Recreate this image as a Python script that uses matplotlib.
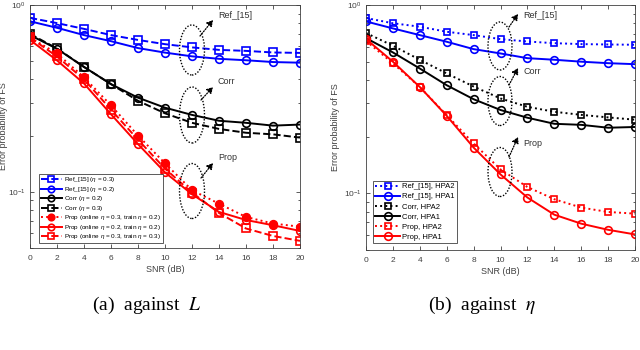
import numpy as np
import matplotlib
matplotlib.use("Agg")
import matplotlib.pyplot as plt
from matplotlib.patches import Ellipse, FancyArrowPatch
from matplotlib.ticker import LogLocator, NullFormatter, FixedLocator

snr = [0, 2, 4, 6, 8, 10, 12, 14, 16, 18, 20]

# (a) against L
ref_eta03 = [0.853, 0.80, 0.745, 0.69, 0.65, 0.617, 0.593, 0.575, 0.568, 0.557, 0.554]
ref_eta02 = [0.818, 0.755, 0.69, 0.64, 0.588, 0.556, 0.531, 0.515, 0.506, 0.495, 0.491]
corr_eta02 = [0.69, 0.583, 0.466, 0.377, 0.319, 0.282, 0.258, 0.24, 0.234, 0.226, 0.229]
corr_eta03 = [0.70, 0.585, 0.466, 0.377, 0.307, 0.263, 0.234, 0.217, 0.207, 0.203, 0.195]
prop_on03_tr02 = [0.67, 0.55, 0.41, 0.29, 0.20, 0.142, 0.102, 0.0863, 0.0733, 0.0676, 0.065]
prop_on02_tr02 = [0.65, 0.505, 0.38, 0.26, 0.18, 0.127, 0.097, 0.078, 0.0706, 0.0662, 0.0617]
prop_on03_tr03 = [0.67, 0.53, 0.40, 0.275, 0.19, 0.133, 0.099, 0.077, 0.0636, 0.058, 0.0546]

# (b) against eta
ref_hpa2 = [0.853, 0.80, 0.767, 0.721, 0.692, 0.659, 0.64, 0.627, 0.62, 0.617, 0.615]
ref_hpa1 = [0.818, 0.751, 0.692, 0.638, 0.583, 0.553, 0.522, 0.512, 0.50, 0.491, 0.485]
corr_hpa2 = [0.71, 0.608, 0.512, 0.433, 0.369, 0.319, 0.288, 0.271, 0.261, 0.253, 0.246]
corr_hpa1 = [0.667, 0.56, 0.46, 0.375, 0.316, 0.277, 0.252, 0.234, 0.231, 0.223, 0.225]
prop_hpa2 = [0.645, 0.49, 0.367, 0.26, 0.184, 0.134, 0.108, 0.093, 0.084, 0.0796, 0.078]
prop_hpa1 = [0.66, 0.50, 0.367, 0.258, 0.175, 0.126, 0.095, 0.077, 0.069, 0.064, 0.0605]

W, H = 640, 350
fig = plt.figure(figsize=(6.4, 3.5), dpi=100)
plt.rcParams['font.family'] = ['Liberation Sans', 'DejaVu Sans']
plt.rcParams['mathtext.fontset'] = 'custom'
plt.rcParams['mathtext.rm'] = 'Liberation Sans'
plt.rcParams['mathtext.it'] = 'Liberation Sans:italic'

AX = '#404040'

def axes_px(x0, y0, x1, y1):
    return fig.add_axes([x0 / W, 1 - y1 / H, (x1 - x0) / W, (y1 - y0) / H])

def style(ax, ylab_x):
    ax.set_yscale('log')
    ax.set_xlim(0, 20)
    ax.set_ylim(0.05, 1)
    ax.set_xticks(snr)
    ax.yaxis.set_major_locator(FixedLocator([0.1, 1]))
    ax.yaxis.set_minor_locator(LogLocator(base=10, subs=np.arange(2, 10)))
    ax.yaxis.set_minor_formatter(NullFormatter())
    ax.tick_params(which='both', direction='in', top=True, right=True,
                   colors=AX, labelsize=6, width=0.6)
    ax.tick_params(axis='x', pad=5)
    ax.tick_params(axis='y', pad=3)
    ax.tick_params(which='major', length=3)
    ax.tick_params(which='minor', length=1.8)
    for s in ax.spines.values():
        s.set_color(AX)
        s.set_linewidth(0.6)
    ax.set_xlabel('SNR (dB)', fontsize=6.5, color=AX, labelpad=2)
    ax.set_ylabel('Error probability of FS', fontsize=6.5, color=AX)
    ax.yaxis.set_label_coords(ylab_x, 0.5)

def annot(ax_texts):
    for (cx, cy, w, h, sx, sy, ex, ey, tx, ty, label) in ax_texts:
        e = Ellipse((cx / W, 1 - cy / H), w / W, h / H, transform=fig.transFigure,
                    fill=False, linestyle=(0, (1, 1.2)), linewidth=1.0, color='black')
        fig.add_artist(e)
        a = FancyArrowPatch((sx / W, 1 - sy / H), (ex / W, 1 - ey / H),
                            transform=fig.transFigure, arrowstyle='-|>,head_length=3.5,head_width=2',
                            linestyle=(0, (1, 1.2)), linewidth=0.9, color='black',
                            mutation_scale=1, shrinkA=0, shrinkB=0)
        fig.add_artist(a)
        fig.text(tx / W, 1 - ty / H, label, fontsize=6.5, color='#333333',
                 ha='left', va='center')

ms = 5.5
mew = 1.2
lw = 1.4

# ---- (a) ----
ax1 = axes_px(30, 5, 300, 248)
ax1.plot(snr, ref_eta03, color='blue', ls='--', marker='s', mfc='none', ms=ms, mew=mew, lw=lw,
         label=r'Ref_[15] ($\eta$ = 0.3)')
ax1.plot(snr, ref_eta02, color='blue', ls='-', marker='o', mfc='none', ms=ms, mew=mew, lw=lw,
         label=r'Ref_[15] ($\eta$ = 0.2)')
ax1.plot(snr, corr_eta02, color='black', ls='-', marker='o', mfc='none', ms=ms, mew=mew, lw=lw,
         label=r'Corr ($\eta$ = 0.2)')
ax1.plot(snr, corr_eta03, color='black', ls='--', marker='s', mfc='none', ms=ms, mew=mew, lw=lw,
         label=r'Corr ($\eta$ = 0.3)')
ax1.plot(snr, prop_on03_tr02, color='red', ls=':', marker='o', mfc='red', ms=ms, mew=mew, lw=lw,
         label=r'Prop (online $\eta$ = 0.3, train $\eta$ = 0.2)')
ax1.plot(snr, prop_on02_tr02, color='red', ls='-', marker='o', mfc='none', ms=ms, mew=mew, lw=lw,
         label=r'Prop (online $\eta$ = 0.2, train $\eta$ = 0.2)')
ax1.plot(snr, prop_on03_tr03, color='red', ls='--', marker='s', mfc='none', ms=ms, mew=mew, lw=lw,
         label=r'Prop (online $\eta$ = 0.3, train $\eta$ = 0.3)')
style(ax1, (8 - 30) / 270)
leg1 = ax1.legend(loc='lower left', bbox_to_anchor=((39 - 30) / 270, (248 - 243) / 243),
                  fontsize=4.6, handlelength=3.4, handletextpad=0.3, borderpad=0.25,
                  labelspacing=0.08, borderaxespad=0, fancybox=False, framealpha=1,
                  edgecolor=AX, markerscale=0.85)
leg1.get_frame().set_linewidth(0.6)

annot([
    (192, 50, 25, 50, 200, 36, 213, 20, 218, 16, 'Ref_[15]'),
    (192, 115, 25, 56, 201, 100, 213, 87, 218, 82, 'Corr'),
    (192, 191, 25, 55, 201, 178, 213, 163, 218, 157, 'Prop'),
])

# ---- (b) ----
ax2 = axes_px(366, 5, 635, 250)
ax2.plot(snr, ref_hpa2, color='blue', ls=':', marker='s', mfc='none', ms=ms - 0.5, mew=mew, lw=lw,
         label='Ref_[15], HPA2')
ax2.plot(snr, ref_hpa1, color='blue', ls='-', marker='o', mfc='none', ms=ms, mew=mew, lw=lw,
         label='Ref_[15], HPA1')
ax2.plot(snr, corr_hpa2, color='black', ls=':', marker='s', mfc='none', ms=ms - 0.5, mew=mew, lw=lw,
         label='Corr, HPA2')
ax2.plot(snr, corr_hpa1, color='black', ls='-', marker='o', mfc='none', ms=ms, mew=mew, lw=lw,
         label='Corr, HPA1')
ax2.plot(snr, prop_hpa2, color='red', ls=':', marker='s', mfc='none', ms=ms - 0.5, mew=mew, lw=lw,
         label='Prop, HPA2')
ax2.plot(snr, prop_hpa1, color='red', ls='-', marker='o', mfc='none', ms=ms, mew=mew, lw=lw,
         label='Prop, HPA1')
style(ax2, (340 - 366) / 269)
leg2 = ax2.legend(loc='lower left', bbox_to_anchor=((373 - 366) / 269, (250 - 243) / 245),
                  fontsize=5.5, handlelength=3.2, handletextpad=0.3, borderpad=0.3,
                  labelspacing=0.36, borderaxespad=0, fancybox=False, framealpha=1,
                  edgecolor=AX)
leg2.get_frame().set_linewidth(0.6)

annot([
    (500, 46, 24, 48, 509, 27, 518, 14, 523, 15, 'Ref_[15]'),
    (500, 101, 24, 49, 509, 85, 518, 68, 523, 71, 'Corr'),
    (500, 172, 24, 49, 509, 157, 518, 137, 523, 143, 'Prop'),
])

# captions
fig.text(147 / W, 1 - 305 / H, r'(a)  against  $L$', fontsize=14, ha='center', va='center',
         family='Liberation Serif', math_fontfamily='stix')
fig.text(482 / W, 1 - 305 / H, r'(b)  against  $\eta$', fontsize=14, ha='center', va='center',
         family='Liberation Serif', math_fontfamily='stix')

fig.savefig('out.png', dpi=100)
